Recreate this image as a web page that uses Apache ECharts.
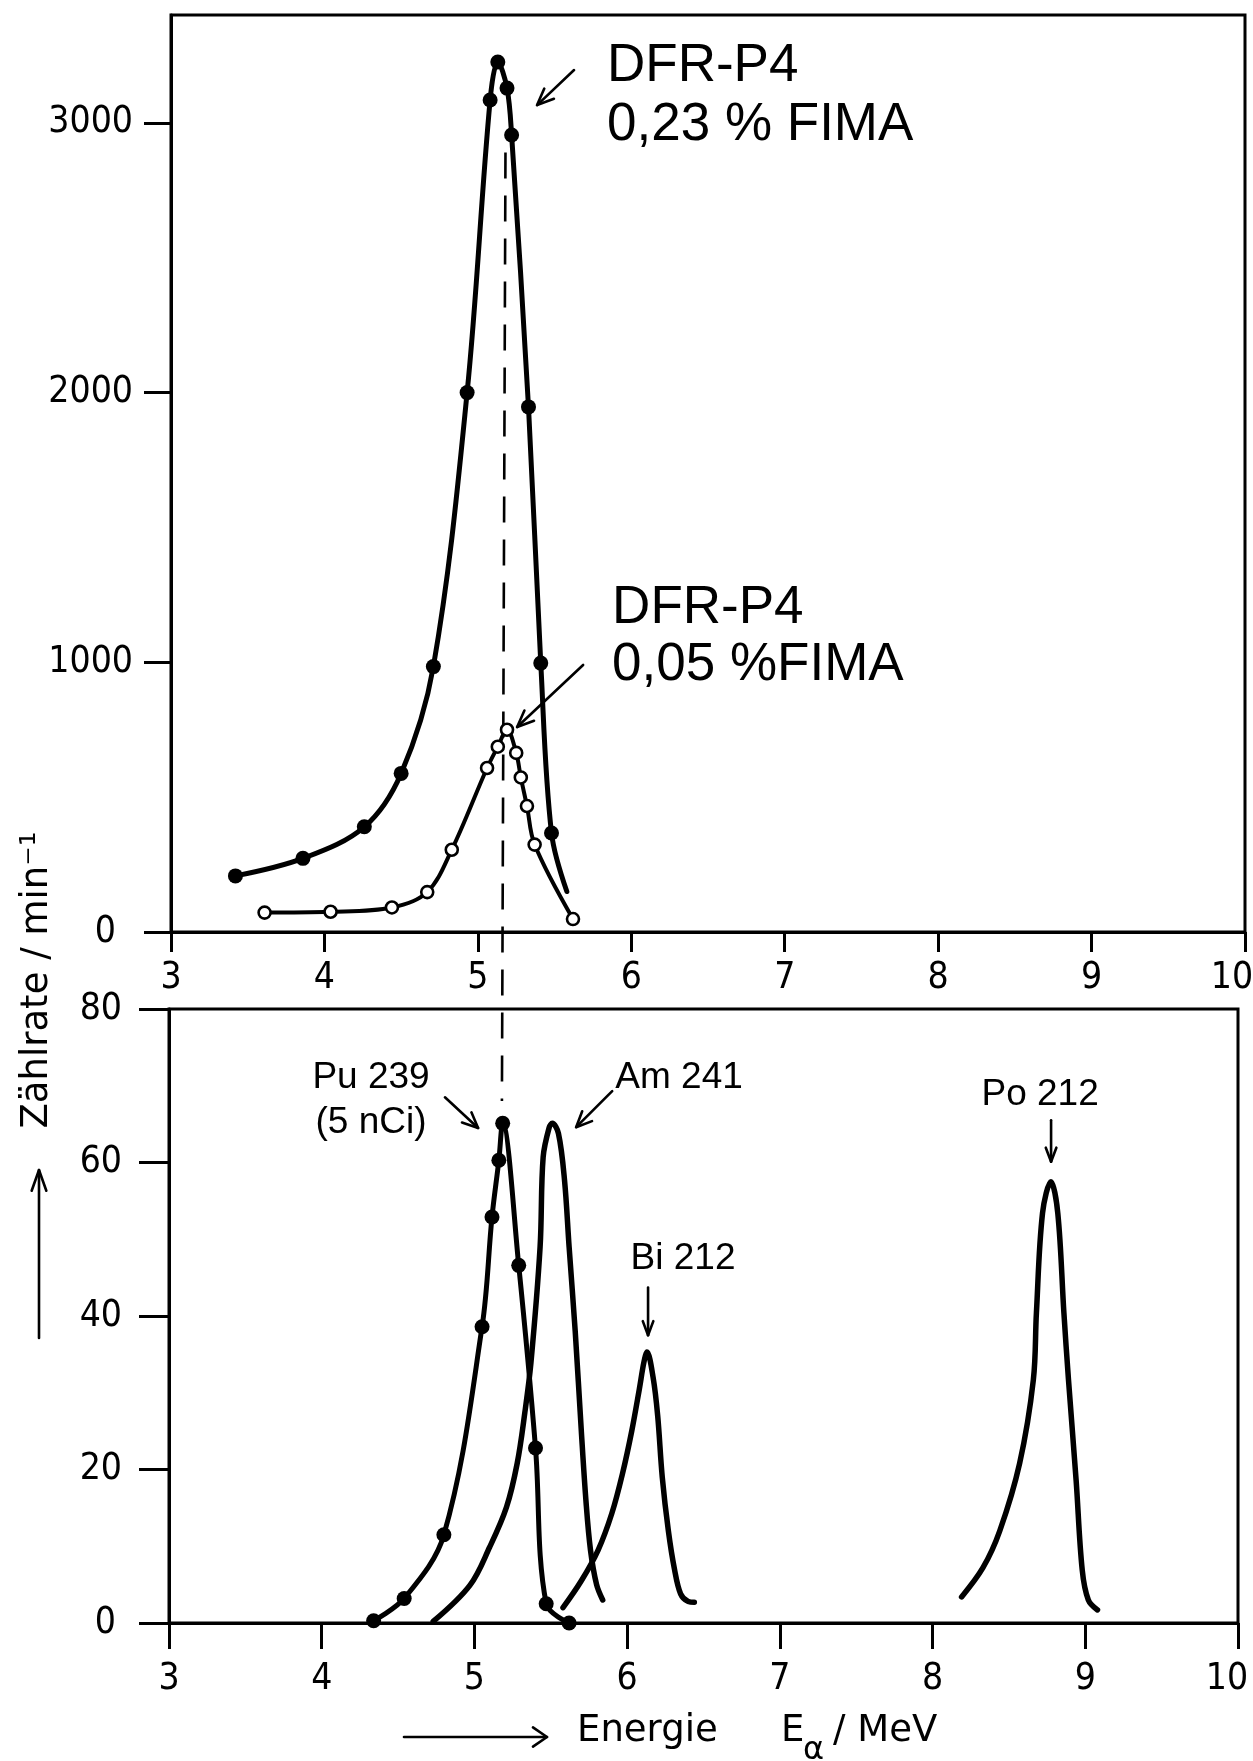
<!DOCTYPE html>
<html>
<head>
<meta charset="utf-8">
<script src="https://cdn.jsdelivr.net/npm/echarts@6/dist/echarts.min.js"></script>
<style>
  html, body { margin: 0; padding: 0; background: #ffffff; }
  #chart { width: 1253px; height: 1761px; }
</style>
</head>
<body>
<div id="chart"></div>
<script>
// ---- data -------------------------------------------------------------
// Energy ticks (MeV), shared by both panels
const energyTicks = [3, 4, 5, 6, 7, 8, 9, 10];
// Count-rate ticks (min^-1)
const upperRateTicks = [0, 1000, 2000, 3000];
const lowerRateTicks = [0, 20, 40, 60, 80];

// DFR-P4, 0.23 % FIMA: measured points [E / MeV, rate / min^-1]
const fima023Points = [
  [3.42, 208], [3.86, 273], [4.26, 390], [4.50, 588], [4.71, 984],
  [4.93, 2000], [5.08, 3085], [5.13, 3226], [5.19, 3129], [5.22, 2955],
  [5.33, 1947], [5.41, 997], [5.48, 367]
];
// where the hand-drawn curve of that sample stops
const fima023CurveEnd = [5.58, 150];

// DFR-P4, 0.05 % FIMA: measured points
const fima005Points = [
  [3.61, 72], [4.04, 75], [4.44, 91], [4.67, 148], [4.83, 305],
  [5.06, 608], [5.13, 687], [5.19, 750], [5.25, 664], [5.28, 573],
  [5.32, 467], [5.37, 324], [5.62, 48]
];

// Pu 239 calibration source (5 nCi): measured points
const pu239Points = [
  [4.34, 0.3], [4.54, 3.2], [4.80, 11.5], [5.05, 38.6], [5.115, 52.9],
  [5.16, 60.3], [5.185, 65.1], [5.29, 46.6], [5.40, 22.8], [5.47, 2.5],
  [5.62, 0]
];

// Am 241 reference spectrum
const am241Curve = [
  [4.73, 0.2], [4.97, 4.9], [5.10, 9.9], [5.21, 15.1], [5.28, 20.8],
  [5.33, 27.4], [5.37, 33.9], [5.43, 49.0], [5.45, 60.7], [5.49, 64.6],
  [5.51, 65.1], [5.55, 63.8], [5.59, 57.7], [5.62, 49.0], [5.66, 38.0],
  [5.70, 25.0], [5.73, 16.0], [5.76, 9.5], [5.80, 5.0], [5.84, 3.0]
];

// Bi 212 reference spectrum
const bi212Curve = [
  [5.58, 2.0], [5.70, 5.5], [5.81, 9.5], [5.90, 14.3], [5.97, 19.5],
  [6.03, 25.0], [6.08, 30.5], [6.11, 34.0], [6.13, 35.3], [6.17, 32.0],
  [6.20, 27.0], [6.23, 19.0], [6.27, 12.0], [6.31, 7.0], [6.35, 3.8],
  [6.40, 2.8], [6.44, 2.7]
];

// Po 212 reference spectrum
const po212Curve = [
  [8.19, 3.4], [8.33, 7.2], [8.44, 12.0], [8.57, 20.8], [8.66, 31.7],
  [8.68, 40.4], [8.72, 53.4], [8.775, 57.5], [8.82, 53.4], [8.86, 40.4],
  [8.89, 31.7], [8.94, 18.6], [8.98, 6.9], [9.02, 3.0], [9.08, 1.7]
];

// Pu 239 peak energy marked by the dashed guide line
const pu239PeakEnergy = [5.18];

// ---- styling ----------------------------------------------------------
const INK = '#000000';
const TICK_FONT = '"Liberation Sans Narrow", "DejaVu Sans Condensed", "Liberation Sans", sans-serif';
const NOTE_FONT = '"Liberation Sans", Arial, sans-serif';
const TITLE_FONT = '"DejaVu Sans", "Liberation Sans", sans-serif';

const chart = echarts.init(document.getElementById('chart'), null, { renderer: 'canvas' });

// the last energy label sits just left of the frame corner
function energyAxis(gridIndex, tickLen, labelMargin, lastPad) {
  return {
    type: 'value', gridIndex: gridIndex, position: 'bottom',
    min: 3, max: 10, interval: 1,
    axisLine: { show: true, onZero: false, lineStyle: { color: INK, width: 3 } },
    axisTick: { show: true, inside: false, length: tickLen, customValues: energyTicks,
                lineStyle: { color: INK, width: 3 } },
    axisLabel: {
      show: true, customValues: energyTicks, margin: labelMargin, color: INK,
      fontSize: 37, fontFamily: TICK_FONT, showMinLabel: true, showMaxLabel: true,
      formatter: function (v) { return v === 10 ? '{r|10}' : String(v); },
      rich: { r: { fontSize: 37, fontFamily: TICK_FONT, color: INK, padding: [0, lastPad, 0, 0] } }
    },
    splitLine: { show: false }
  };
}

function rateAxis(gridIndex, max, interval, ticks, tickLen, labelMargin, zeroPad) {
  return {
    type: 'value', gridIndex: gridIndex, position: 'left',
    min: 0, max: max, interval: interval,
    axisLine: { show: true, onZero: false, lineStyle: { color: INK, width: 3 } },
    axisTick: { show: true, inside: false, length: tickLen, customValues: ticks,
                lineStyle: { color: INK, width: 3 } },
    axisLabel: {
      show: true, customValues: ticks, margin: labelMargin, color: INK,
      fontSize: 37, fontFamily: TICK_FONT,
      formatter: function (v) { return v === 0 ? '{z|0}' : String(v); },
      rich: { z: { fontSize: 37, fontFamily: TICK_FONT, color: INK, padding: [0, zeroPad, 0, 0] } }
    },
    splitLine: { show: false }
  };
}

function curve(data, xi, yi, width) {
  return {
    type: 'line', xAxisIndex: xi, yAxisIndex: yi, data: data,
    smooth: 0.35, symbol: 'none', clip: false, silent: true,
    lineStyle: { color: INK, width: width, cap: 'round', join: 'round' }
  };
}

const upperFilled = fima023Points.map(function (p) { return { value: p }; })
  .concat([{ value: fima023CurveEnd, symbol: 'none' }]);

chart.setOption({
  animation: false,
  backgroundColor: '#ffffff',
  grid: [
    { left: 171, right: 8, top: 15, height: 917, show: true, borderColor: INK, borderWidth: 3,
      containLabel: false, outerBoundsMode: 'none' },
    { left: 169, right: 15, top: 1009, height: 614, show: true, borderColor: INK, borderWidth: 3,
      containLabel: false, outerBoundsMode: 'none' }
  ],
  xAxis: [energyAxis(0, 20, 28, 26), energyAxis(1, 26, 38, 22)],
  yAxis: [
    rateAxis(0, 3400, 1000, upperRateTicks, 27, 38, 17),
    rateAxis(1, 80, 20, lowerRateTicks, 30, 47, 6)
  ],
  series: [
    Object.assign(curve(upperFilled, 0, 0, 5), {
      symbol: 'circle', symbolSize: 15, showAllSymbol: true,
      itemStyle: { color: INK, borderWidth: 0 }
    }),
    Object.assign(curve(fima005Points, 0, 0, 4), {
      symbol: 'circle', symbolSize: 12, showAllSymbol: true, z: 3,
      itemStyle: { color: '#ffffff', borderColor: INK, borderWidth: 2.6 }
    }),
    Object.assign(curve(pu239Points, 1, 1, 5), {
      symbol: 'circle', symbolSize: 15, showAllSymbol: true,
      itemStyle: { color: INK, borderWidth: 0 }
    }),
    curve(am241Curve, 1, 1, 5.5),
    curve(bi212Curve, 1, 1, 5.5),
    curve(po212Curve, 1, 1, 5.5)
  ]
});

// ---- annotations, positioned through the axes --------------------------
function px(gridIndex, point) {
  return chart.convertToPixel({ gridIndex: gridIndex }, point);
}

function arrow(from, to, headLen, halfAngle, width) {
  const ang = Math.atan2(to[1] - from[1], to[0] - from[0]);
  const w1 = [to[0] - headLen * Math.cos(ang - halfAngle), to[1] - headLen * Math.sin(ang - halfAngle)];
  const w2 = [to[0] - headLen * Math.cos(ang + halfAngle), to[1] - headLen * Math.sin(ang + halfAngle)];
  return [
    { type: 'line', silent: true, z: 20,
      shape: { x1: from[0], y1: from[1], x2: to[0], y2: to[1] },
      style: { stroke: INK, lineWidth: width, lineCap: 'round' } },
    { type: 'polyline', silent: true, z: 20,
      shape: { points: [w1, to, w2] },
      style: { stroke: INK, fill: null, lineWidth: width, lineCap: 'round', lineJoin: 'round' } }
  ];
}

function text(str, pos, font, align, extra) {
  return Object.assign({
    type: 'text', silent: true, z: 20, x: pos[0], y: pos[1],
    style: { text: str, font: font, fill: INK,
             align: align, verticalAlign: 'middle',
             textAlign: align, textVerticalAlign: 'middle' }
  }, extra || {});
}

const bigNote = '53px ' + NOTE_FONT;
const smallNote = '37px ' + NOTE_FONT;
const titleFont = '37px ' + TITLE_FONT;

const elements = [];

// dashed guide through both panels at the Pu 239 line
const guideTop = px(0, [pu239PeakEnergy[0], 2890]);
const guideBottom = px(1, [pu239PeakEnergy[0], 68]);
elements.push({
  type: 'line', silent: true, z: 1,
  shape: { x1: guideTop[0], y1: guideTop[1], x2: guideBottom[0], y2: guideBottom[1] },
  style: { stroke: INK, lineWidth: 2.6, lineDash: [26, 17] }
});

// upper panel labels
elements.push(text('DFR-P4', px(0, [5.842, 3210]), bigNote, 'left'));
elements.push(text('0,23 % FIMA', px(0, [5.842, 2990]), bigNote, 'left'));
Array.prototype.push.apply(elements, arrow(px(0, [5.627, 3196]), px(0, [5.386, 3066]), 18, 0.4, 2.6));

elements.push(text('DFR-P4', px(0, [5.875, 1200]), bigNote, 'left'));
elements.push(text('0,05 %FIMA', px(0, [5.875, 990]), bigNote, 'left'));
Array.prototype.push.apply(elements, arrow(px(0, [5.686, 990]), px(0, [5.256, 760]), 18, 0.4, 2.6));

// lower panel labels
elements.push(text('Pu 239', px(1, [4.323, 71.0]), smallNote, 'center'));
elements.push(text('(5 nCi)', px(1, [4.323, 65.2]), smallNote, 'center'));
Array.prototype.push.apply(elements, arrow(px(1, [4.807, 68.5]), px(1, [5.024, 64.5]), 17, 0.42, 2.6));

elements.push(text('Am 241', px(1, [6.340, 71.0]), smallNote, 'center'));
Array.prototype.push.apply(elements, arrow(px(1, [5.902, 69.3]), px(1, [5.666, 64.6]), 17, 0.42, 2.6));

elements.push(text('Bi 212', px(1, [6.366, 47.4]), smallNote, 'center'));
Array.prototype.push.apply(elements, arrow(px(1, [6.137, 43.7]), px(1, [6.137, 37.5]), 15, 0.36, 2.6));

elements.push(text('Po 212', px(1, [8.704, 68.8]), smallNote, 'center'));
Array.prototype.push.apply(elements, arrow(px(1, [8.776, 65.5]), px(1, [8.776, 60.1]), 15, 0.36, 2.6));

// vertical axis title, read bottom to top, with its arrow
elements.push(text('Zählrate / min⁻¹', [37, 980], titleFont, 'center', { rotation: Math.PI / 2 }));
Array.prototype.push.apply(elements, arrow([39, 1338], [39, 1170], 22, 0.34, 2.6));

// horizontal axis title with its arrow
const axisOrigin = px(1, [3, 0]);
const nameY = axisOrigin[1] + 108;
Array.prototype.push.apply(elements, arrow([axisOrigin[0] + 235, nameY + 6], [axisOrigin[0] + 378, nameY + 6], 17, 0.6, 2.6));
elements.push(text('Energie', [axisOrigin[0] + 408, nameY], titleFont, 'left'));
elements.push(text('E', [axisOrigin[0] + 612, nameY], titleFont, 'left'));
elements.push(text('α', [axisOrigin[0] + 634, nameY + 20], '32px ' + TITLE_FONT, 'left'));
elements.push(text('/ MeV', [axisOrigin[0] + 664, nameY], titleFont, 'left'));

chart.setOption({ graphic: { elements: elements } });
</script>
</body>
</html>
